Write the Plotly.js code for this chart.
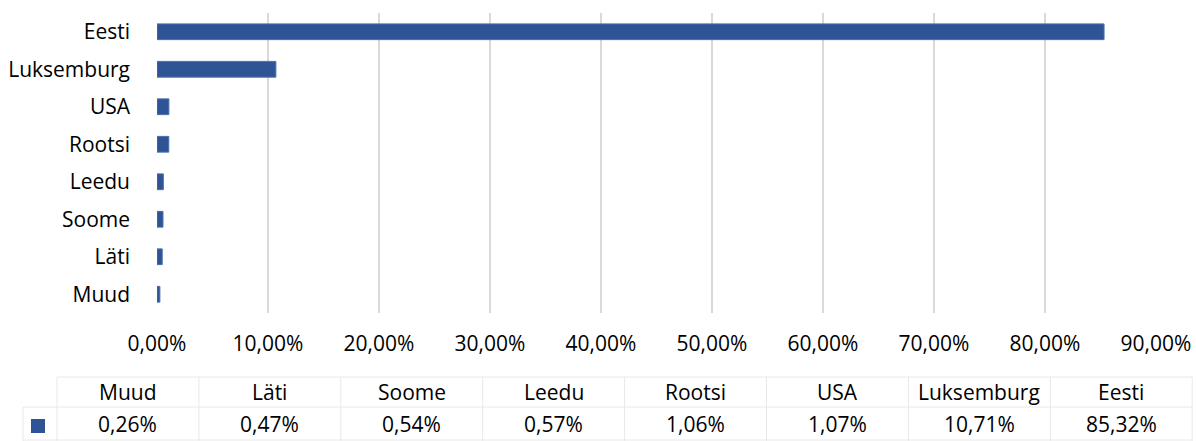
<!DOCTYPE html>
<html>
<head>
<meta charset="utf-8">
<script src="https://cdn.plot.ly/plotly-3.0.1.min.js"></script>
<style>
    html, body { margin: 0; padding: 0; background: #fff; }
    #chart { width: 1196px; height: 441px; }
</style>
</head>
<body>
<div id="chart"></div>
<script>
// data, bottom to top (same order as the table under the chart)
var countries = ['Muud', 'Läti', 'Soome', 'Leedu', 'Rootsi', 'USA', 'Luksemburg', 'Eesti'];
var shares = [0.0026, 0.0047, 0.0054, 0.0057, 0.0106, 0.0107, 0.1071, 0.8532];
var xTicks = [0, 0.1, 0.2, 0.3, 0.4, 0.5, 0.6, 0.7, 0.8, 0.9];

var barColor = '#2f5496';
var fontFamily = '"Open Sans", "Noto Sans", sans-serif';
var fontSize = 21;
var lineColor = '#e8e8e8';

// plot area in pixels
var W = 1196, H = 441;
var plotL = 157, plotR = 1156, plotT = 13, plotB = 313;

function px2x(px) { return (px - plotL) / (plotR - plotL); }
function px2y(py) { return (plotB - py) / (plotB - plotT); }

function fmtPct(v) {
    return (v * 100).toFixed(2).replace('.', ',') + '%';
}

// table geometry
var tblTop = 377, tblMid = 407, tblBot = 441;
var colStart = 57, colW = 141.9, keyLeft = 23;

var shapes = [];
var annotations = [];

function hLine(x0, x1, y) {
    shapes.push({type: 'line', xref: 'paper', yref: 'paper',
        x0: px2x(x0), x1: px2x(x1), y0: px2y(y), y1: px2y(y),
        line: {color: lineColor, width: 1}});
}
function vLine(x, y0, y1) {
    shapes.push({type: 'line', xref: 'paper', yref: 'paper',
        x0: px2x(x), x1: px2x(x), y0: px2y(y0), y1: px2y(y1),
        line: {color: lineColor, width: 1}});
}

var tblRight = colStart + colW * countries.length;
hLine(colStart, tblRight, tblTop);
hLine(keyLeft, tblRight, tblMid);
hLine(keyLeft, tblRight, tblBot - 1);
vLine(keyLeft, tblMid, tblBot);
for (var i = 0; i <= countries.length; i++) {
    vLine(colStart + colW * i, tblTop, tblBot);
}

// legend key
shapes.push({type: 'rect', xref: 'paper', yref: 'paper',
    x0: px2x(31), x1: px2x(45), y0: px2y(433), y1: px2y(419),
    fillcolor: barColor, line: {width: 0}});

for (var j = 0; j < countries.length; j++) {
    var cx = colStart + colW * (j + 0.5);
    annotations.push({xref: 'paper', yref: 'paper', x: px2x(cx), y: px2y(392),
        text: countries[j], showarrow: false, xanchor: 'center', yanchor: 'middle',
        font: {family: fontFamily, size: fontSize, color: '#000'}});
    annotations.push({xref: 'paper', yref: 'paper', x: px2x(cx), y: px2y(424),
        text: fmtPct(shares[j]), showarrow: false, xanchor: 'center', yanchor: 'middle',
        font: {family: fontFamily, size: fontSize, color: '#000'}});
}

var trace = {
    type: 'bar',
    orientation: 'h',
    x: shares,
    y: countries,
    width: 0.42,
    marker: {color: barColor, line: {color: '#4a6fae', width: 1}},
    hoverinfo: 'x+y'
};

var layout = {
    width: W,
    height: H,
    margin: {l: plotL, r: W - plotR, t: plotT, b: H - plotB, pad: 0},
    paper_bgcolor: '#fff',
    plot_bgcolor: '#fff',
    showlegend: false,
    separators: ', ',
    font: {family: fontFamily, size: fontSize, color: '#000'},
    xaxis: {
        range: [0, 0.9],
        tickvals: xTicks,
        ticktext: xTicks.map(fmtPct),
        showgrid: true,
        gridcolor: '#d9d9d9',
        gridwidth: 2,
        zeroline: false,
        showline: false,
        ticks: '',
        ticklabelstandoff: 16,
        tickfont: {family: fontFamily, size: fontSize, color: '#000'}
    },
    yaxis: {
        type: 'category',
        range: [-0.5, 7.5],
        showgrid: false,
        zeroline: false,
        showline: false,
        ticks: '',
        ticklabelstandoff: 26,
        tickfont: {family: fontFamily, size: fontSize, color: '#000'}
    },
    shapes: shapes,
    annotations: annotations
};

Plotly.newPlot('chart', [trace], layout, {displayModeBar: false, staticPlot: true});
</script>
</body>
</html>
